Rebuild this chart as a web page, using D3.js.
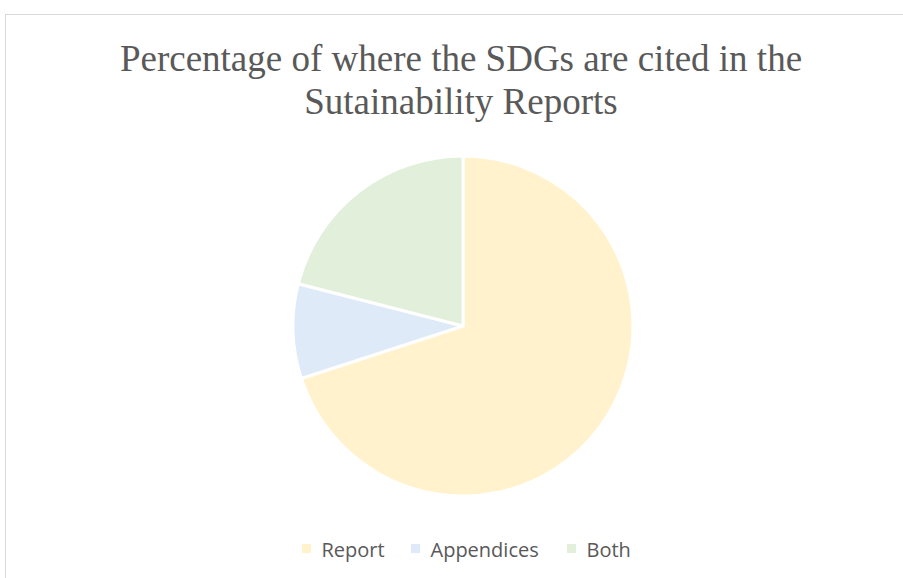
<!DOCTYPE html>
<html>
<head>
<meta charset="utf-8">
<script src="https://cdn.jsdelivr.net/npm/d3@7"></script>
<style>
  html, body { margin: 0; padding: 0; background: #fff; }
  svg { display: block; }
</style>
</head>
<body>
<svg id="chart" width="903" height="578"></svg>
<script>
// Where the SDGs are cited in the sustainability reports (share of reports, %)
const categories = ["Report", "Appendices", "Both"];
const values = [70, 9, 21];
const colors = ["#FFF2CC", "#DEEAF7", "#E2EFDA"];
const titleLines = ["Percentage of where the SDGs are cited in the", "Sutainability Reports"];

const svg = d3.select("#chart");
const W = 903, H = 578;

// chart area frame
svg.append("rect")
  .attr("x", 5.5).attr("y", 14.5)
  .attr("width", W).attr("height", H)
  .attr("fill", "#fff")
  .attr("stroke", "#d9d9d9")
  .attr("stroke-width", 1);

// title
const title = svg.append("text")
  .attr("text-anchor", "middle")
  .attr("font-family", "'Liberation Serif', 'Times New Roman', serif")
  .attr("font-size", 37)
  .attr("fill", "#595959");
titleLines.forEach((t, i) => {
  title.append("tspan")
    .attr("x", 461)
    .attr("y", 71 + i * 43)
    .text(t);
});

// pie
const cx = 463, cy = 326, r = 170;
const pie = d3.pie().sort(null).value(d => d.value);
const arc = d3.arc().innerRadius(0).outerRadius(r);
const data = categories.map((c, i) => ({ name: c, value: values[i] }));
const color = d3.scaleOrdinal().domain(categories).range(colors);

svg.append("g")
  .attr("transform", `translate(${cx},${cy})`)
  .selectAll("path")
  .data(pie(data))
  .join("path")
  .attr("d", arc)
  .attr("fill", d => color(d.data.name))
  .attr("stroke", "#fff")
  .attr("stroke-width", 3)
  .attr("stroke-linejoin", "round");

// legend
const legendBaseline = 556.5;
const legendX = [302, 411, 567];
const legend = svg.append("g")
  .attr("font-family", "'Open Sans', 'Noto Sans', sans-serif")
  .attr("font-size", 20)
  .attr("fill", "#595959");
categories.forEach((c, i) => {
  const g = legend.append("g").attr("transform", `translate(${legendX[i]},0)`);
  g.append("rect")
    .attr("x", 0).attr("y", 544)
    .attr("width", 9).attr("height", 9)
    .attr("fill", color(c));
  g.append("text")
    .attr("x", 19.5).attr("y", legendBaseline)
    .text(c);
});
</script>
</body>
</html>
